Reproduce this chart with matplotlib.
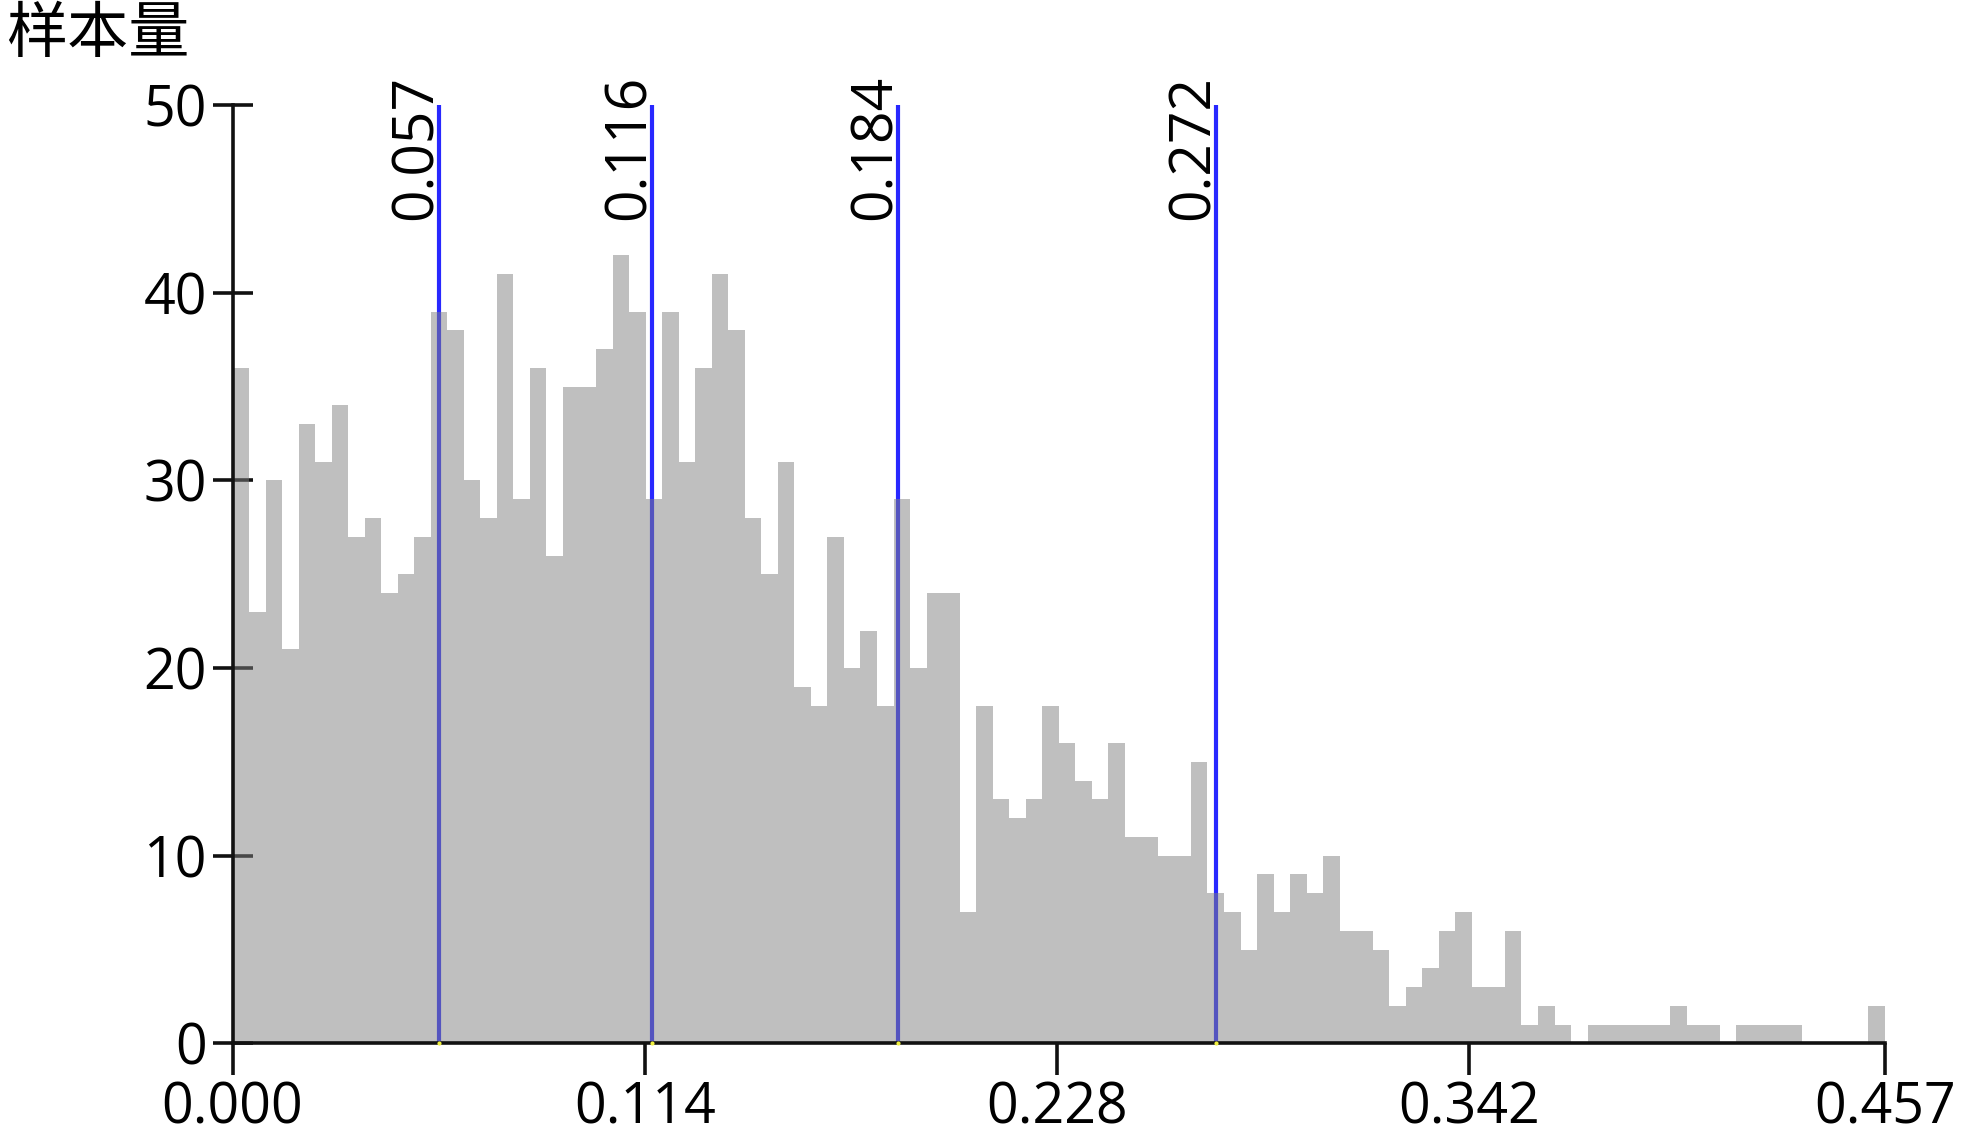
import numpy as np
import matplotlib
matplotlib.use("Agg")
import matplotlib.pyplot as plt

# ---- data ----
x_min, x_max = 0.0, 0.457
n_bins = 100
counts = [36, 23, 30, 21, 33, 31, 34, 27, 28, 24,
          25, 27, 39, 38, 30, 28, 41, 29, 36, 26,
          35, 35, 37, 42, 39, 29, 39, 31, 36, 41,
          38, 28, 25, 31, 19, 18, 27, 20, 22, 18,
          29, 20, 24, 24, 7, 18, 13, 12, 13, 18,
          16, 14, 13, 16, 11, 11, 10, 10, 15, 8,
          7, 5, 9, 7, 9, 8, 10, 6, 6, 5,
          2, 3, 4, 6, 7, 3, 3, 6, 1, 2,
          1, 0, 1, 1, 1, 1, 1, 2, 1, 1,
          0, 1, 1, 1, 1, 0, 0, 0, 0, 2]
cut_values = [0.057, 0.116, 0.184, 0.272]
cut_labels = ["0.057", "0.116", "0.184", "0.272"]
x_ticks = [0.0, 0.114, 0.228, 0.342, 0.457]
x_tick_labels = ["0.000", "0.114", "0.228", "0.342", "0.457"]
y_ticks = [0, 10, 20, 30, 40, 50]
y_label = "样本量"

# ---- figure ----
W, H, DPI = 1969, 1146, 100
fig = plt.figure(figsize=(W / DPI, H / DPI), dpi=DPI)
ax = fig.add_axes([232.5 / W, 1 - 1043.3 / H, (1885 - 232.5) / W, (1043.3 - 105.3) / H])

edges = np.linspace(x_min, x_max, n_bins + 1)
width = edges[1] - edges[0]

# cut lines (drawn beneath semi-transparent bars)
for v in cut_values:
    ax.plot([v, v], [0, 50], color="#2828ff", lw=3.0, zorder=1, solid_capstyle="butt")
    ax.plot([v], [0], marker="o", ms=3, color="#f0f040", mec="none", zorder=5, clip_on=False)

ax.bar(edges[:-1], counts, width=width, align="edge", color="#808080", alpha=0.5,
       linewidth=0, zorder=2)

tick_font = "Open Sans"
for v, lbl in zip(cut_values, cut_labels):
    ax.annotate(lbl, xy=(v, 47.75), xytext=(-5, 0), textcoords="offset points",
                rotation=90, rotation_mode="anchor", ha="center", va="baseline",
                fontsize=41, family=tick_font, color="black", zorder=6)

ax.set_xlim(x_min, x_max)
ax.set_ylim(0, 50)
ax.set_xticks(x_ticks)
ax.set_xticklabels(x_tick_labels, family=tick_font, fontsize=40)
ax.set_yticks(y_ticks)
ax.set_yticklabels([str(t) for t in y_ticks], family=tick_font, fontsize=40)

for s in ["top", "right"]:
    ax.spines[s].set_visible(False)
for s in ["left", "bottom"]:
    ax.spines[s].set_linewidth(2.6)
    ax.spines[s].set_color("#111111")
    ax.spines[s].set_zorder(4)

ax.tick_params(axis="y", direction="inout", length=29, width=2.6, pad=4, colors="#111111")
ax.tick_params(axis="x", direction="out", length=23, width=2.6, pad=4, colors="#111111")
for lab in ax.get_xticklabels() + ax.get_yticklabels():
    lab.set_color("black")

fig.text(6 / W, 1 - 35 / H, y_label, ha="left", va="center", fontsize=44,
         fontweight="light", family=["Noto Sans CJK SC", "DejaVu Sans"])

fig.savefig("out.png", dpi=DPI)
